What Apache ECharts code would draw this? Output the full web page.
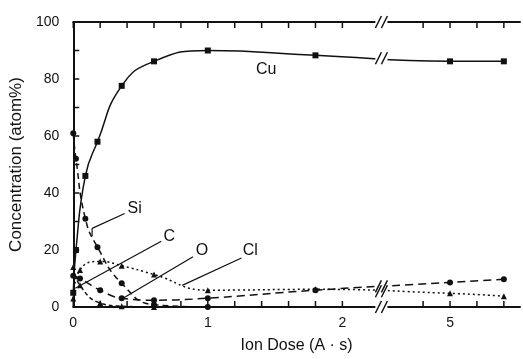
<!DOCTYPE html>
<html>
<head>
<meta charset="utf-8">
<script src="https://cdn.jsdelivr.net/npm/echarts@6/dist/echarts.min.js"></script>
<style>
  html, body { margin: 0; padding: 0; background: #fff; }
  #main { width: 523px; height: 359px; }
</style>
</head>
<body>
<div id="main"></div>
<script>
// ion dose (A·s) and concentration (atom%)
const cuDose = [0, 0.02, 0.09, 0.18, 0.36, 0.6, 1.0, 1.8, 5.0, 5.4];
const cuConc = [5, 20, 46, 58, 77.6, 86.2, 90, 88.3, 86.2, 86.2];
const siDose = [0, 0.02, 0.09, 0.18, 0.36, 0.6, 1.0];
const siConc = [61, 52, 31, 21, 8.3, 0.8, 0];
const oDose = [0, 0.05, 0.2, 0.36, 0.6, 1.0, 1.8, 5.0, 5.4];
const oConc = [11, 10, 5.9, 3.1, 2.4, 3.1, 5.9, 8.6, 9.7];
const clDose = [0, 0.05, 0.2, 0.36, 0.6, 1.0, 1.8, 5.0, 5.4];
const clConc = [3, 13, 16, 14.5, 11.4, 5.9, 6.2, 4.8, 3.8];
const cDose = [0, 0.05, 0.2, 0.36, 0.6];
const cConc = [14, 7.6, 1.4, 0.3, 0];

const xTickDoses = [0, 0.2, 0.4, 0.6, 0.8, 1.0, 1.2, 1.4, 1.6, 1.8, 2.0, 4.8, 5.0, 5.2, 5.4];
const xTickLabels = [0, 1, 2, 5];
const yTickValues = [10, 20, 30, 40, 50, 60, 70, 80, 90];
const yTickLabels = [0, 20, 40, 60, 80, 100];

// axis is broken between 2 and 5: doses past the break are shifted left
const BREAK_SHIFT = 2.2;
const BREAK_AT = 2.29;
const pos = d => (d > BREAK_AT ? d - BREAK_SHIFT : d);
const pts = (d, c) => d.map((v, i) => [pos(v), c[i]]);

const ink = '#111';
const font = '"Liberation Sans", Arial, sans-serif';

const myChart = echarts.init(document.getElementById('main'));

function line(name, d, c, type, symbol) {
  return {
    name: name,
    type: 'line',
    data: pts(d, c),
    smooth: 0.5,
    symbol: symbol,
    symbolSize: 6,
    showSymbol: true,
    itemStyle: { color: ink },
    lineStyle: { color: ink, width: 1.5, type: type },
    animation: false
  };
}

const option = {
  animation: false,
  grid: { left: 68, right: 3, top: 22, bottom: 47 },
  xAxis: [
    {
      type: 'value',
      min: 0,
      max: 3.32,
      position: 'bottom',
      axisLine: { show: true, lineStyle: { color: ink, width: 2 } },
      axisTick: { show: false },
      splitLine: { show: false },
      axisLabel: {
        customValues: xTickLabels.map(pos),
        formatter: v => {
          const i = xTickLabels.findIndex(t => Math.abs(pos(t) - v) < 1e-6);
          return i < 0 ? '' : String(xTickLabels[i]);
        },
        color: ink,
        fontFamily: font,
        fontSize: 14,
        margin: 9
      },
      name: 'Ion Dose (A · s)',
      nameLocation: 'middle',
      nameGap: 31,
      nameTextStyle: { color: ink, fontFamily: font, fontSize: 16 }
    },
    {
      type: 'value',
      min: 0,
      max: 3.32,
      position: 'top',
      axisLine: { show: true, lineStyle: { color: ink, width: 2 } },
      axisTick: { show: false },
      axisLabel: { show: false },
      splitLine: { show: false }
    }
  ],
  yAxis: {
    type: 'value',
    min: 0,
    max: 100,
    interval: 10,
    axisLine: { show: true, lineStyle: { color: ink, width: 2 } },
    axisTick: { show: false },
    splitLine: { show: false },
    axisLabel: {
      customValues: yTickLabels,
      color: ink,
      fontFamily: font,
      fontSize: 14,
      margin: 14
    },
    name: 'Concentration (atom%)',
    nameLocation: 'middle',
    nameGap: 42,
    nameTextStyle: { color: ink, fontFamily: font, fontSize: 17 }
  },
  series: [
    line('Cu', cuDose, cuConc, 'solid', 'rect'),
    line('Si', siDose, siConc, [6, 4], 'circle'),
    line('O', oDose, oConc, [8, 5], 'circle'),
    line('Cl', clDose, clConc, [2, 3], 'triangle'),
    line('C', cDose, cConc, [4, 3], 'triangle')
  ]
};

myChart.setOption(option);

// inward ticks, break marks and element labels
const px = p => myChart.convertToPixel({ xAxisIndex: 0, yAxisIndex: 0 }, p);
const TICK = 6;

function seg(x1, y1, x2, y2, w, z) {
  return { type: 'line', z: z, shape: { x1: x1, y1: y1, x2: x2, y2: y2 }, style: { stroke: ink, lineWidth: w } };
}

function valueAtBreak(d, c) {
  const i = d.findIndex(v => v > BREAK_AT);
  const x0 = pos(d[i - 1]), x1 = pos(d[i]);
  return c[i - 1] + (c[i] - c[i - 1]) * (BREAK_AT - x0) / (x1 - x0);
}

const g = [];
xTickDoses.forEach(d => {
  const b = px([pos(d), 0]);
  const t = px([pos(d), 100]);
  g.push(seg(b[0], b[1], b[0], b[1] - TICK, 1.5, 90));
  g.push(seg(t[0], t[1], t[0], t[1] + TICK, 1.5, 90));
});
yTickValues.forEach(v => {
  const p = px([0, v]);
  g.push(seg(p[0], p[1], p[0] + TICK, p[1], 1.5, 90));
});

const left = px([BREAK_AT - 0.045, 100]);
const right = px([BREAK_AT + 0.045, 0]);
g.push({
  type: 'rect', z: 100,
  shape: { x: left[0], y: left[1] - 6, width: right[0] - left[0], height: right[1] - left[1] + 12 },
  style: { fill: '#fff' }
});
const breakYs = [100, 0, valueAtBreak(cuDose, cuConc), valueAtBreak(oDose, oConc), valueAtBreak(clDose, clConc)];
breakYs.forEach(v => {
  const c = px([BREAK_AT, v]);
  [-3, 3].forEach(dx => {
    g.push(seg(c[0] + dx - 3, c[1] + 6, c[0] + dx + 3, c[1] - 6, 1.5, 101));
  });
});

const notes = [
  { text: 'Cu', at: [1.434, 83.4] },
  { text: 'Si', at: [0.456, 34.5], from: [0.382, 32.8], to: [0.14, 27.6], hook: [0.14, 24.8] },
  { text: 'C', at: [0.713, 24.8], from: [0.654, 23.1], to: [0.015, 6.6] },
  { text: 'O', at: [0.956, 19.7], from: [0.89, 17.6], to: [0.37, 3.1] },
  { text: 'Cl', at: [1.316, 19.7], from: [1.25, 17.2], to: [0.81, 7.6] }
];
notes.forEach(n => {
  const a = px(n.at);
  g.push({
    type: 'text', z: 102, x: a[0], y: a[1],
    style: { text: n.text, font: '16px ' + font, fill: ink, align: 'center', verticalAlign: 'middle' }
  });
  if (n.from) {
    const f = px(n.from), t = px(n.to);
    g.push(seg(f[0], f[1], t[0], t[1], 1.2, 102));
    if (n.hook) {
      const h = px(n.hook);
      g.push(seg(t[0], t[1], h[0], h[1], 1.2, 102));
    }
  }
});

myChart.setOption({ graphic: g });
</script>
</body>
</html>
